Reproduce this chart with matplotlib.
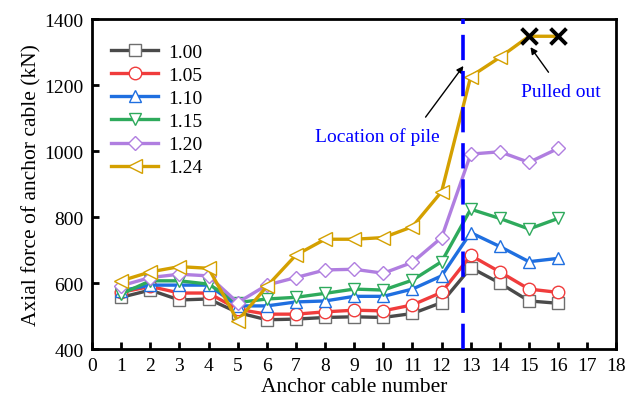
import matplotlib
matplotlib.use("Agg")
import matplotlib.pyplot as plt
import numpy as np

plt.rcParams['font.family'] = ['Liberation Serif', 'DejaVu Serif']
plt.rcParams['mathtext.fontset'] = 'stix'

cable_no = np.arange(1, 17)

f100 = [557, 579, 549, 552, 511, 489, 491, 496, 498, 496, 508, 541, 647, 600, 546, 539]
f105 = [572, 590, 570, 570, 521, 506, 506, 513, 518, 516, 534, 572, 684, 634, 582, 572]
f110 = [577, 594, 594, 594, 531, 531, 543, 546, 560, 560, 582, 622, 753, 711, 665, 675]
f115 = [567, 607, 607, 597, 541, 552, 557, 569, 582, 579, 609, 665, 824, 796, 764, 796]
f120 = [592, 617, 627, 622, 541, 594, 617, 640, 642, 630, 663, 738, 991, 998, 966, 1008]
f124 = [607, 634, 650, 645, 486, 590, 685, 733, 733, 738, 771, 877, 1226, 1284, 1348, 1348]

labels = ['1.00', '1.05', '1.10', '1.15', '1.20', '1.24']
pile_x = 12.75
pulled = [15, 16]

series = [f100, f105, f110, f115, f120, f124]
colors = ['#4a4a4a', '#f03c3c', '#1f6fe0', '#2eaa5c', '#b07ee0', '#d4a000']
edges = ['#6e6e6e', '#f03c3c', '#1f6fe0', '#2eaa5c', '#b07ee0', '#d4a000']
markers = ['s', 'o', '^', 'v', 'D', '<']
msizes = [8, 9, 9, 9, 7, 10]

fig = plt.figure(figsize=(6.28, 4.02), dpi=100)
ax = fig.add_axes([0.1465, 0.129, 0.835, 0.821])

for i, y in enumerate(series):
    every = list(range(14)) if i == 5 else None
    ax.plot(cable_no, y, color=colors[i], lw=2.4, marker=markers[i],
            markersize=msizes[i], markerfacecolor='white',
            markeredgecolor=edges[i], markeredgewidth=1.0,
            markevery=every, label=labels[i], zorder=3)

# anchors that were pulled out
ax.scatter(pulled, [f124[14], f124[15]], marker='x', s=130, color='black',
           linewidths=2.8, zorder=5)

ax.axvline(pile_x, color='#0000ff', lw=2.6, dashes=(7, 3), zorder=4)

arrow = dict(arrowstyle='-|>', color='black', lw=1.0, shrinkA=0, shrinkB=0,
             mutation_scale=10)
ax.text(9.79, 1045, 'Location of pile', color='#0000ff', fontsize=14,
        ha='center', va='center')
ax.annotate('', xy=(pile_x, 1258), xytext=(11.45, 1103), arrowprops=arrow)
ax.text(16.1, 1182, 'Pulled out', color='#0000ff', fontsize=14,
        ha='center', va='center')
ax.annotate('', xy=(15.05, 1315), xytext=(15.67, 1239), arrowprops=arrow)

ax.set_xlim(0, 18)
ax.set_ylim(400, 1400)
ax.set_xticks(range(0, 19))
ax.set_yticks(range(400, 1401, 200))
ax.tick_params(direction='in', length=5, width=2, labelsize=14, pad=6)
for s in ax.spines.values():
    s.set_linewidth(2)

ax.set_xlabel('Anchor cable number', fontsize=15.5, labelpad=2)
ax.set_ylabel('Axial force of anchor cable (kN)', fontsize=15.5, labelpad=2)

ax.legend(loc='upper left', frameon=False, fontsize=14, handlelength=2.4,
          handletextpad=0.5, labelspacing=0.28, borderaxespad=0.6,
          bbox_to_anchor=(0.0, 0.985))

fig.savefig('out.png', dpi=100)
